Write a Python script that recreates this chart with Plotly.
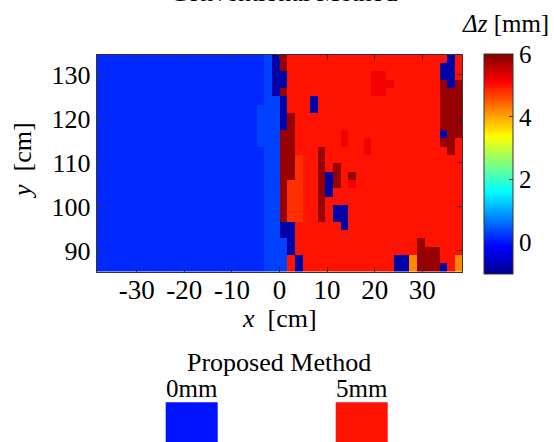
import numpy as np
import plotly.graph_objects as go

W, H = 554, 442

# measurement grid (cell centres, cm)
X_CENTERS_CM = np.round(np.arange(-37.6, 37.61, 1.6), 2)   # 48 columns
Y_CENTERS_CM = np.round(np.arange(86.15, 134.0, 1.9), 2)   # 26 rows

# height offset levels (mm)
LEVEL_MM = {"b": 0.15, "c": 0.32, "d": -0.8, "s": 4.8, "r": 5.0,
            "R": 5.2, "D": 5.85, "o": 4.2}

# rows from top (y ~ 134 cm) to bottom (y ~ 85 cm), 48 columns from x=-38 to 38
DZ_MAP = [
    "bbbbbbbbbbbbbbbbbbbbb" + "bcdDrrrrrrrrrrrrrrrrrrrrrdr",
    "bbbbbbbbbbbbbbbbbbbbb" + "bcdDrrrrrrrrrrrrrrrrrrrrddr",
    "bbbbbbbbbbbbbbbbbbbbb" + "bcddrrrrrrrrrrrRRrrrrrrrddr",
    "bbbbbbbbbbbbbbbbbbbbb" + "bcddrrrrrrrrrrrRRRrrrrrrDdD",
    "bbbbbbbbbbbbbbbbbbbbb" + "bcdDrrrrrrrrrrrRRrrrrrrrDDD",
    "bbbbbbbbbbbbbbbbbbbbb" + "bccdrrrdrrrrrrrrrrrrrrrrDDD",
    "bbbbbbbbbbbbbbbbbbbbb" + "cccdrrrdrrrrrrrrrrrrrrrrDDD",
    "bbbbbbbbbbbbbbbbbbbbb" + "cccdDrrrrrrrrrrrrrrrrrrrDDD",
    "bbbbbbbbbbbbbbbbbbbbb" + "cccdDrrrrrrrrrrrrrrrrrrrDDD",
    "bbbbbbbbbbbbbbbbbbbbb" + "cccDDrrrrrrRrrrrrrrrrrrrdDD",
    "bbbbbbbbbbbbbbbbbbbbb" + "cccDDrrrrrrRrrRrrrrrrrrrDDr",
    "bbbbbbbbbbbbbbbbbbbbb" + "bccDDrrrDrrrrrRrrrrrrrrrrDr",
    "bbbbbbbbbbbbbbbbbbbbb" + "bccDDsrrDrrrrrrrrrrrrrrrrrr",
    "bbbbbbbbbbbbbbbbbbbbb" + "bccDDsrrDrDrrrrrrrrrrrrrrrr",
    "bbbbbbbbbbbbbbbbbbbbb" + "bccDDsrrDdDrDrrrrrrrrrrrrrr",
    "bbbbbbbbbbbbbbbbbbbbb" + "bccDssrrDdDrRrrrrrrrrrrrrrr",
    "bbbbbbbbbbbbbbbbbbbbb" + "bccDssrrDdrrrrrrrrrrrrrrrrr",
    "bbbbbbbbbbbbbbbbbbbbb" + "bccDssrrDrrrrrrrrrrrrrrrrrr",
    "bbbbbbbbbbbbbbbbbbbbb" + "bccDssrrDrddrrrrrrrrrrrrrrr",
    "bbbbbbbbbbbbbbbbbbbbb" + "bccDssrrDrddrrrrrrrrrrrrrrr",
    "bbbbbbbbbbbbbbbbbbbbb" + "bccddrrrrrrdrrrrrrrrrrrrrrr",
    "bbbbbbbbbbbbbbbbbbbbb" + "bccddrrrrrrrrrrrrrrrrrrrrrr",
    "bbbbbbbbbbbbbbbbbbbbb" + "bcccdrrrrrrrrrrrrrrrrDrrrrr",
    "bbbbbbbbbbbbbbbbbbbbb" + "bcccdrrrrrrrrrrrrrrrrDDDrrr",
    "bbbbbbbbbbbbbbbbbbbbb" + "bcccrdrrrrrrrrrrrrddoDDDrro",
    "bbbbbbbbbbbbbbbbbbbbb" + "bcccrdrrrrrrrrrrrrddoDDDdro",
]
for r in DZ_MAP:
    assert len(r) == 48, len(r)

X_TICKS = [-30, -20, -10, 0, 10, 20, 30]
Y_TICKS = [90, 100, 110, 120, 130]
CB_TICKS = [0, 2, 4, 6]
X_RANGE = [-38.4, 38.4]
Y_RANGE = [85.2, 134.6]
DZ_RANGE = [-1, 6]

PROPOSED_LABELS = ["0mm", "5mm"]
PROPOSED_VALUES = [0, 5]

JET = [[0.0, "rgb(0,0,143)"], [0.125, "rgb(0,0,255)"], [0.375, "rgb(0,255,255)"],
       [0.625, "rgb(255,255,0)"], [0.875, "rgb(255,0,0)"], [1.0, "rgb(128,0,0)"]]

FONT = "Liberation Serif, Times New Roman, serif"

z = [[LEVEL_MM[ch] for ch in row] for row in reversed(DZ_MAP)]

def px(x):
    return x / W

def py(y):
    return (H - y) / H

fig = go.Figure()
fig.add_trace(go.Heatmap(
    x=X_CENTERS_CM, y=Y_CENTERS_CM, z=z,
    colorscale=JET, zmin=DZ_RANGE[0], zmax=DZ_RANGE[1],
    xaxis="x", yaxis="y", hoverinfo="skip",
    colorbar=dict(
        x=px(484), xanchor="left", xpad=0,
        y=py(164), yanchor="middle", ypad=0,
        thickness=29, lenmode="pixels", len=220,
        outlinecolor="#333", outlinewidth=1,
        tickvals=CB_TICKS, ticks="inside", ticklen=4, tickcolor="#333",
        tickfont=dict(family=FONT, size=25, color="black"),
    ),
))

fig.add_trace(go.Scatter(
    x=PROPOSED_LABELS, y=[0, 0], mode="markers",
    xaxis="x2", yaxis="y2", cliponaxis=False, hoverinfo="skip",
    marker=dict(symbol="square", size=52, color=PROPOSED_VALUES,
                colorscale=JET, cmin=DZ_RANGE[0], cmax=DZ_RANGE[1],
                line=dict(width=0)),
    showlegend=False,
))

axis_common = dict(showline=True, linecolor="#333", linewidth=1, mirror="ticks",
                   ticks="inside", ticklen=5, tickcolor="#333", showgrid=False,
                   zeroline=False)

fig.update_layout(
    width=W, height=H, autosize=False,
    margin=dict(l=0, r=0, t=0, b=0),
    paper_bgcolor="white", plot_bgcolor="white",
    font=dict(family=FONT, color="black"),
    showlegend=False,
    xaxis=dict(domain=[px(96.7), px(462.3)], range=X_RANGE, tickvals=X_TICKS,
               ticktext=[str(v) for v in X_TICKS], ticklabelstandoff=-6,
               tickfont=dict(size=27), anchor="y", **axis_common),
    yaxis=dict(domain=[py(271.7), py(54.7)], range=Y_RANGE, tickvals=Y_TICKS,
               tickfont=dict(size=26), anchor="x", **axis_common),
    xaxis2=dict(domain=[px(106.7), px(446.7)], type="category", side="top",
                range=[-0.5, 1.5], anchor="y2", showline=False, showgrid=False,
                zeroline=False, ticks="", ticklabelstandoff=12,
                tickfont=dict(size=25)),
    yaxis2=dict(domain=[0, py(414.6)], range=[-1, 1], anchor="x2",
                visible=False),
    annotations=[
        dict(text="Conventional Method", x=px(283.7), y=py(-8), xref="paper", yref="paper",
             showarrow=False, font=dict(size=26), xanchor="center", yanchor="middle"),
        dict(text="<i>Δz</i> [mm]", x=px(505), y=py(23), xref="paper", yref="paper",
             showarrow=False, font=dict(size=25), xanchor="center", yanchor="middle"),
        dict(text="<i>x</i>\u00a0\u00a0[cm]", x=px(279), y=py(318), xref="paper", yref="paper",
             showarrow=False, font=dict(size=26), xanchor="center", yanchor="middle"),
        dict(text="<i>y</i>\u00a0\u00a0[cm]", x=px(22), y=py(161), xref="paper", yref="paper",
             showarrow=False, font=dict(size=26), textangle=-90,
             xanchor="center", yanchor="middle"),
        dict(text="Proposed Method", x=px(279), y=py(362), xref="paper", yref="paper",
             showarrow=False, font=dict(size=26), xanchor="center", yanchor="middle"),
    ],
)

fig.write_html("out.html")
